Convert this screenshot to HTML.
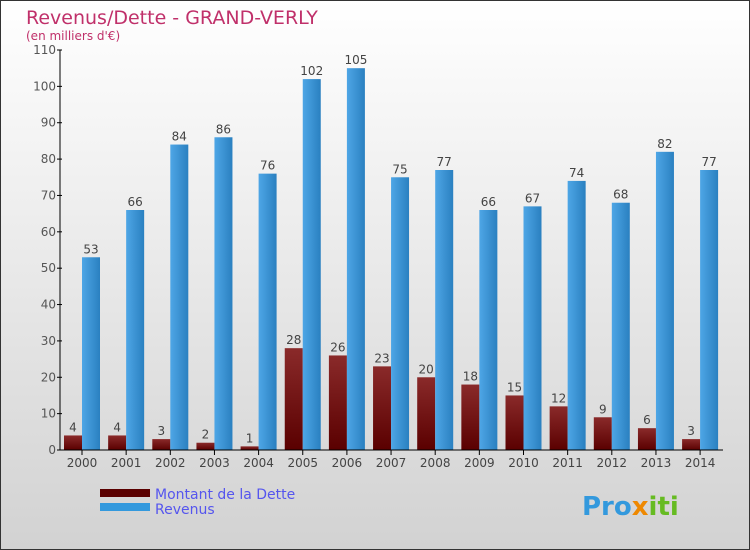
<!DOCTYPE html>
<html><head><meta charset="utf-8"><style>
body{margin:0}
svg{display:block;font-family:"DejaVu Sans","Liberation Sans",sans-serif}
</style></head><body>
<svg width="750" height="550" xmlns="http://www.w3.org/2000/svg">
<defs>
<linearGradient id="bg" x1="0" y1="0" x2="0" y2="1"><stop offset="0" stop-color="#ffffff"/><stop offset="1" stop-color="#d2d2d2"/></linearGradient>
<linearGradient id="gd" x1="0" y1="0" x2="0" y2="1"><stop offset="0" stop-color="#8a2a2a"/><stop offset="1" stop-color="#5a0000"/></linearGradient>
<linearGradient id="gr" x1="0" y1="0" x2="1" y2="0"><stop offset="0" stop-color="#4ea6e6"/><stop offset="1" stop-color="#2a80c0"/></linearGradient>
</defs>
<rect x="0.5" y="0.5" width="749" height="549" fill="url(#bg)" stroke="#333"/>
<text x="26" y="24" font-size="19" fill="#c0306a">Revenus/Dette - GRAND-VERLY</text>
<text x="26" y="40" font-size="12" fill="#c0306a">(en milliers d'€)</text>
<g id="plot"></g>
<g>
<rect x="100" y="489" width="50" height="8" fill="#5a0000"/>
<text x="155" y="499" font-size="14" fill="#5555ee">Montant de la Dette</text>
<rect x="100" y="503" width="50" height="8" fill="#3399dd"/>
<text x="155" y="514" font-size="14" fill="#5555ee">Revenus</text>
</g>
<text x="582" y="515" font-size="26" font-weight="bold" fill="#3399dd">Pro<tspan fill="#ee8800">x</tspan><tspan fill="#66bb22">iti</tspan></text>
</svg>
<script>
const years=["2000","2001","2002","2003","2004","2005","2006","2007","2008","2009","2010","2011","2012","2013","2014"];
const dette=[4,4,3,2,1,28,26,23,20,18,15,12,9,6,3];
const revenus=[53,66,84,86,76,102,105,75,77,66,67,74,68,82,77];
const yTicks=[0,10,20,30,40,50,60,70,80,90,100,110];
const NS="http://www.w3.org/2000/svg";
const g=document.getElementById('plot');
const y=v=>450-v*400/110;
const x=i=>82+i*44.15;
function mk(t,a,txt){const e=document.createElementNS(NS,t);for(const k in a)e.setAttribute(k,a[k]);if(txt!==undefined)e.textContent=txt;g.appendChild(e);return e;}
years.forEach((yr,i)=>{
 const cx=x(i);
 let b=mk('rect',{x:cx-18,y:y(dette[i]),width:18,height:450-y(dette[i]),fill:'url(#gd)'});
 
 
 let r=mk('rect',{x:cx,y:y(revenus[i]),width:18,height:450-y(revenus[i]),fill:'url(#gr)'});
 
 
 let t1=mk('text',{x:cx-9,y:y(dette[i])-4,'font-size':12,fill:'#444','text-anchor':'middle'},dette[i]);
 
 
 let t2=mk('text',{x:cx+9,y:y(revenus[i])-4,'font-size':12,fill:'#444','text-anchor':'middle'},revenus[i]);
 
 
 let tk=mk('line',{x1:cx,x2:cx,y1:450,y2:455,stroke:'#000'});
 
 
 let xl=mk('text',{x:cx,y:467,'font-size':12,fill:'#444','text-anchor':'middle'},yr);
 
 
});
yTicks.forEach(v=>{
 let l=mk('line',{x1:57,x2:62,y1:y(v),y2:y(v),stroke:'#000'});
 
 
 let t=mk('text',{x:56,y:y(v)+4,'font-size':12,fill:'#555','text-anchor':'end'},v);
 
 
});
let ya=mk('line',{x1:60,x2:60,y1:50,y2:450,stroke:'#000'});


let xa=mk('line',{x1:60,x2:723,y1:450,y2:450,stroke:'#000'});


</script>
</body></html>
